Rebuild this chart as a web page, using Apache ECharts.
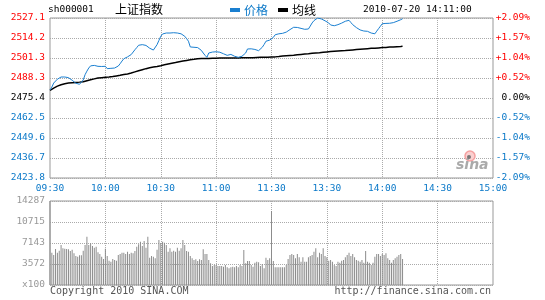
<!DOCTYPE html>
<html><head><meta charset="utf-8">
<script src="https://cdn.jsdelivr.net/npm/echarts@6/dist/echarts.min.js"></script>
<style>html,body{margin:0;padding:0;background:#fff}#c{width:545px;height:300px}</style>
</head><body><div id="c"></div>
<script>
const timeLabels = ['09:30','10:00','10:30','11:00','11:30','13:30','14:00','14:30','15:00'];
const priceLabels = ['2423.8','2436.7','2449.6','2462.5','2475.4','2488.3','2501.3','2514.2','2527.1'];
const pctLabels = ['-2.09%','-1.57%','-1.04%','-0.52%','0.00%','+0.52%','+1.04%','+1.57%','+2.09%'];
const volLabels = ['x100','3572','7143','10715','14287'];

const price = [2480.6,2482.5,2485.1,2486.3,2487.6,2488.4,2489.0,2489.2,2489.0,2489.0,
2488.6,2487.9,2486.9,2485.8,2485.0,2484.5,2484.3,2484.5,2487.1,2490.5,
2492.8,2494.8,2496.2,2497.0,2496.5,2496.0,2495.9,2495.5,2495.8,2496.2,
2495.9,2494.4,2494.9,2494.6,2494.9,2494.8,2495.4,2496.1,2497.6,2499.3,
2500.8,2501.9,2502.0,2502.4,2503.5,2504.5,2506.6,2508.0,2509.5,2509.7,
2509.9,2509.9,2509.4,2508.8,2507.6,2506.6,2506.4,2506.2,2509.9,2512.6,
2515.3,2516.8,2517.9,2517.4,2516.9,2517.4,2517.9,2517.6,2517.8,2517.4,
2517.6,2516.9,2516.2,2515.3,2513.8,2512.1,2508.4,2508.6,2508.2,2508.4,
2508.0,2507.7,2506.2,2504.5,2503.0,2501.7,2504.5,2504.8,2505.1,2505.6,
2505.3,2505.6,2505.0,2504.6,2504.0,2503.6,2503.0,2503.2,2503.6,2503.4,
2502.4,2502.0,2501.7,2502.0,2502.4,2503.5,2504.5,2507.1,2507.5,2507.2,
2507.3,2506.8,2506.4,2506.0,2507.1,2508.2,2510.0,2512.1,2512.6,2512.8,
2513.1,2514.6,2516.3,2516.6,2516.9,2517.0,2517.2,2517.4,2518.0,2518.5,
2519.6,2520.4,2521.1,2521.3,2521.0,2521.3,2520.4,2519.5,2519.8,2519.9,
2520.0,2521.9,2523.9,2525.4,2526.6,2527.1,2526.8,2526.5,2526.0,2525.3,
2524.6,2523.9,2522.6,2521.7,2522.1,2522.5,2522.8,2523.2,2523.8,2524.4,
2525.0,2525.2,2525.6,2524.2,2522.8,2521.8,2520.9,2520.0,2519.4,2518.9,
2518.7,2518.8,2518.5,2517.9,2517.4,2517.2,2516.9,2518.6,2520.2,2521.8,
2523.4,2523.2,2523.6,2523.9,2523.7,2524.3,2524.1,2524.6,2525.0,2525.4,
2526.0,2526.6];

const avgPrice = [2480.3,2481.0,2481.8,2482.5,2483.1,2483.6,2484.0,2484.4,2484.7,2484.9,
2485.1,2485.2,2485.3,2485.4,2485.5,2485.6,2485.7,2485.8,2486.0,2486.3,
2486.6,2486.9,2487.2,2487.5,2487.8,2488.1,2488.4,2488.5,2488.6,2488.7,
2488.8,2488.9,2489.0,2489.2,2489.3,2489.5,2489.7,2489.9,2490.1,2490.3,
2490.6,2490.8,2491.0,2491.3,2491.6,2491.9,2492.3,2492.6,2493.0,2493.4,
2493.7,2494.1,2494.4,2494.8,2495.0,2495.2,2495.4,2495.6,2495.8,2496.0,
2496.3,2496.6,2496.9,2497.1,2497.4,2497.6,2497.9,2498.1,2498.3,2498.6,
2498.8,2499.1,2499.3,2499.5,2499.7,2499.9,2500.1,2500.3,2500.4,2500.6,
2500.8,2500.8,2500.9,2500.9,2500.9,2501.0,2501.0,2501.0,2501.1,2501.1,
2501.1,2501.2,2501.2,2501.2,2501.2,2501.3,2501.3,2501.3,2501.3,2501.3,
2501.3,2501.3,2501.3,2501.3,2501.4,2501.4,2501.4,2501.4,2501.5,2501.5,
2501.5,2501.6,2501.6,2501.6,2501.7,2501.7,2501.7,2501.8,2501.8,2501.8,
2501.9,2501.9,2502.0,2502.1,2502.2,2502.4,2502.5,2502.6,2502.7,2502.8,
2502.9,2503.0,2503.1,2503.3,2503.4,2503.5,2503.6,2503.7,2503.8,2503.9,
2504.0,2504.1,2504.3,2504.4,2504.5,2504.6,2504.7,2504.9,2505.0,2505.1,
2505.2,2505.3,2505.4,2505.5,2505.6,2505.7,2505.8,2505.9,2506.0,2506.1,
2506.1,2506.2,2506.3,2506.4,2506.5,2506.6,2506.7,2506.8,2506.9,2507.0,
2507.1,2507.2,2507.3,2507.4,2507.5,2507.5,2507.6,2507.7,2507.8,2507.9,
2508.0,2508.0,2508.1,2508.2,2508.3,2508.4,2508.4,2508.5,2508.6,2508.7,
2508.7,2508.8];

const volume = [14287,5500,5100,6120,5500,5830,6800,6240,6180,6120,
6060,5780,6000,5390,4930,4820,5050,5050,5830,6800,
8220,6800,7090,6630,6350,6520,5560,5280,4820,4420,
6180,4930,4140,3970,4420,4250,4140,5100,5280,5500,
5500,5280,5650,5280,5500,5390,5780,6520,6920,7370,
6630,7480,6350,8220,4650,4930,4820,4540,6000,7650,
7090,7370,7200,6800,5650,6240,5650,5830,5650,6350,
5830,6240,7650,6800,5780,5650,4930,4540,4250,4370,
4090,4370,4250,6060,5280,5280,4250,3690,3230,3400,
3400,3230,3230,3230,3120,3400,3000,2830,3000,3120,
3000,3230,3000,3400,3230,5950,3690,4090,4090,3400,
3120,3800,3970,3860,3230,3570,2830,4650,4250,4540,
12580,4080,3010,3010,3010,3010,3010,3010,3400,4420,
5100,5270,5100,4540,5270,4710,3970,4710,3970,3970,
4710,4930,5100,5670,6240,4710,5500,5270,6240,4930,
4710,4140,4250,3970,3400,3230,3970,3800,4140,4250,
4710,5100,5500,4930,5270,4710,4250,4140,3970,4250,
3800,5780,3970,3800,3400,3800,4820,5270,5270,4930,
5270,5100,5390,4540,4250,3800,4250,4540,4820,5100,
5270,4420];

// minute categories of the trading day (09:30-11:30, 13:01-15:00)
const minutes = [];
function hm(t){const h=Math.floor(t/60),m=t%60;return (h<10?'0':'')+h+':'+(m<10?'0':'')+m;}
for(let t=570;t<=690;t++) minutes.push(hm(t));
for(let t=781;t<=900;t++) minutes.push(hm(t));

const RED='#ff0000', BLUE='#0a78c8', BLACK='#000000', GRAY='#999999';
const MONO='DejaVu Sans Mono';
const priceMin = parseFloat(priceLabels[0]), priceMax = parseFloat(priceLabels[priceLabels.length-1]);
const volMax = parseFloat(volLabels[volLabels.length-1]);
function levelStyle(i){return i>4?'r':(i===4?'k':'b');}
const rich = {
  r:{color:RED,fontFamily:MONO,fontSize:9.5},
  k:{color:BLACK,fontFamily:MONO,fontSize:9.5},
  b:{color:BLUE,fontFamily:MONO,fontSize:9.5}
};
const dotted = {color:'#aaaaaa',width:1,type:[1,1]};
const tickIdx = i => i%30===0;

const chart = echarts.init(document.getElementById('c'),null,{renderer:'canvas'});
chart.setOption({
  animation:false,
  backgroundColor:'#fff',
  grid:[
    {left:50,right:52,top:18,height:160,show:true,borderColor:GRAY,borderWidth:1,backgroundColor:'transparent'},
    {left:50,right:52,top:201,height:84,show:true,borderColor:GRAY,borderWidth:1,backgroundColor:'transparent'}
  ],
  legend:{
    left:230,top:4,padding:0,itemWidth:10,itemHeight:4,itemGap:10,icon:'rect',
    data:[{name:'价格',textStyle:{color:BLUE}},{name:'均线',textStyle:{color:BLACK}}],
    textStyle:{fontSize:12,fontFamily:'Noto Sans CJK SC',padding:[0,0,0,-1]}
  },
  xAxis:[
    {type:'category',gridIndex:0,data:minutes,boundaryGap:false,
     axisLine:{show:false},axisTick:{show:false},
     axisLabel:{interval:tickIdx,color:BLUE,fontFamily:MONO,fontSize:9.5,margin:6,
       formatter:(v,i)=>timeLabels[Math.round(i/30)]},
     splitLine:{show:true,interval:i=>i%30===0&&i>0&&i<240,lineStyle:dotted}},
    {type:'category',gridIndex:1,data:minutes,boundaryGap:false,
     axisLine:{show:false},axisTick:{show:false},axisLabel:{show:false},
     splitLine:{show:true,interval:i=>i%30===0&&i>0&&i<240,lineStyle:dotted}}
  ],
  yAxis:[
    {type:'value',gridIndex:0,min:priceMin,max:priceMax,show:false,splitLine:{show:false}},
    {type:'value',gridIndex:0,min:-4,max:4,interval:1,position:'left',
     axisLine:{show:false},axisTick:{show:false},
     axisLabel:{margin:5,align:'right',rich:rich,
       formatter:v=>{const i=Math.round(v)+4;return '{'+levelStyle(i)+'|'+priceLabels[i]+'}';}},
     splitLine:{show:true,lineStyle:dotted}},
    {type:'value',gridIndex:0,min:-4,max:4,interval:1,position:'right',
     axisLine:{show:false},axisTick:{show:false},
     axisLabel:{margin:37,align:'right',rich:rich,
       formatter:v=>{const i=Math.round(v)+4;return '{'+levelStyle(i)+'|'+pctLabels[i]+'}';}},
     splitLine:{show:false}},
    {type:'value',gridIndex:1,min:0,max:volMax,show:false,splitLine:{show:false}},
    {type:'value',gridIndex:1,min:0,max:4,interval:1,position:'left',
     axisLine:{show:false},axisTick:{show:false},
     axisLabel:{margin:5,align:'right',color:GRAY,fontFamily:MONO,fontSize:9.5,
       formatter:v=>volLabels[Math.round(v)]},
     splitLine:{show:true,lineStyle:dotted}}
  ],
  series:[
    {name:'价格',type:'line',xAxisIndex:0,yAxisIndex:0,data:price,symbol:'none',
     color:'#1a7fd0',lineStyle:{width:1,color:'#1a7fd0'},z:4},
    {name:'均线',type:'line',xAxisIndex:0,yAxisIndex:0,data:avgPrice,symbol:'none',
     color:BLACK,lineStyle:{width:1.5,color:BLACK},z:3},
    {name:'成交量',type:'bar',xAxisIndex:1,yAxisIndex:3,data:volume,barWidth:1,
     itemStyle:{color:'#8c8c8c'},z:3}
  ],
  graphic:[
    {type:'text',left:48,top:5,style:{text:'sh000001',font:'9.5px "DejaVu Sans Mono"',fill:'#000'}},
    {type:'text',left:115,top:3,style:{text:'上证指数',font:'12px "Noto Sans CJK SC"',fill:'#000'}},
    {type:'text',left:363,top:5,style:{text:'2010-07-20 14:11:00',font:'9.5px "DejaVu Sans Mono"',fill:'#000'}},
    {type:'text',left:50,top:286,style:{text:'Copyright 2010 SINA.COM',font:'10px "DejaVu Sans Mono"',fill:'#555'}},
    {type:'text',right:54,top:286,style:{text:'http://finance.sina.com.cn',font:'10px "DejaVu Sans Mono"',fill:'#555'}},
    {type:'circle',shape:{cx:470,cy:156,r:5},style:{fill:'#fbd0d0',stroke:'#f5a0a0',lineWidth:1.5},z:5},
    {type:'circle',shape:{cx:469,cy:157,r:2},style:{fill:'#777'},z:6},
    {type:'text',left:456,top:158,style:{text:'sina',font:'italic bold 14px "DejaVu Sans"',fill:'#aaa'},z:5}
  ]
});
</script></body></html>
